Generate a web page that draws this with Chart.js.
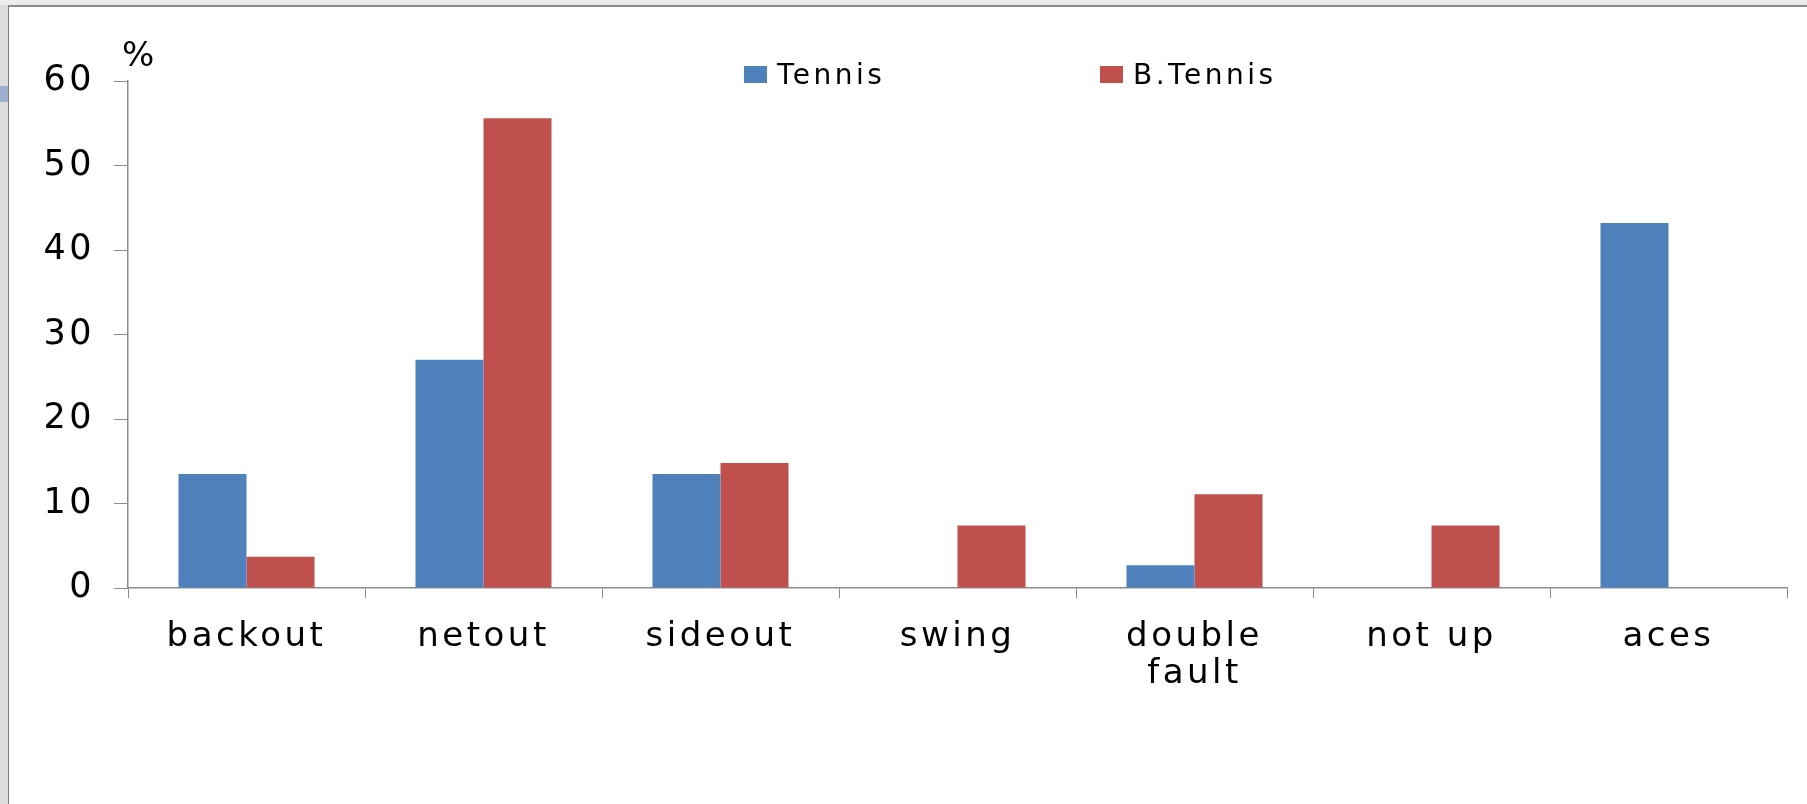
<!DOCTYPE html>
<html>
<head>
<meta charset="utf-8">
<script src="https://cdn.jsdelivr.net/npm/chart.js@4/dist/chart.umd.min.js"></script>
<style>
  html, body { margin: 0; padding: 0; }
  body { width: 1807px; height: 804px; background: #dcdcdc; position: relative; overflow: hidden; }
  #topstrip { position: absolute; left: 0; top: 0; width: 1807px; height: 5px; background: #ececec; }
  #mark { position: absolute; left: 0; top: 86px; width: 8px; height: 16px; background: #9db0d0; }
  #frame { position: absolute; left: 8px; top: 5px; width: 1799px; height: 799px;
           border-left: 1px solid #7a7a7a; border-top: 2px solid #8c8c8c; background: #fff; }
  canvas { display: block; }
</style>
</head>
<body>
<div id="topstrip"></div>
<div id="mark"></div>
<div id="frame"><canvas id="barChart" width="1798" height="797"></canvas></div>
<script>
var categories = ["backout", "netout", "sideout", "swing", ["double", "fault"], "not up", "aces"];
var tennis = [13.5, 27.0, 13.5, 0, 2.7, 0, 43.2];
var bTennis = [3.7, 55.6, 14.8, 7.4, 11.1, 7.4, 0];
var yTicks = [0, 10, 20, 30, 40, 50, 60];

var FONT = "'DejaVu Sans', 'Liberation Sans', sans-serif";

// letter spacing + "%" unit + legend drawn by hand
var decor = {
    id: 'decor',
    beforeDraw: function (chart) {
        chart.ctx.letterSpacing = '3.5px';
    },
    afterDraw: function (chart) {
        var ctx = chart.ctx;
        var y = chart.scales.y;
        ctx.save();
        ctx.letterSpacing = '0px';
        ctx.fillStyle = '#000';
        ctx.font = '34px ' + FONT;
        ctx.textAlign = 'left';
        ctx.textBaseline = 'alphabetic';
        ctx.fillText('%', y.right - 6, chart.chartArea.top - 15);

        var boxX = [735, 1091];
        ctx.font = '28px ' + FONT;
        ctx.letterSpacing = '3.5px';
        chart.data.datasets.forEach(function (ds, i) {
            ctx.fillStyle = ds.backgroundColor;
            ctx.fillRect(boxX[i], 59, 23, 17);
            ctx.fillStyle = '#000';
            ctx.fillText(ds.label, boxX[i] + 33, 77);
        });
        ctx.restore();
    }
};

new Chart(document.getElementById("barChart"), {
    type: 'bar',
    data: {
        labels: categories,
        datasets: [
            { label: 'Tennis', data: tennis, backgroundColor: '#4f81bd', borderWidth: 0 },
            { label: 'B.Tennis', data: bTennis, backgroundColor: '#c0504d', borderWidth: 0 }
        ]
    },
    options: {
        responsive: false,
        animation: false,
        layout: { padding: { left: 20, right: 20, top: 74, bottom: 96 } },
        datasets: { bar: { categoryPercentage: 0.574, barPercentage: 1.0 } },
        plugins: { legend: { display: false }, tooltip: { enabled: false } },
        scales: {
            x: {
                offset: true,
                grid: { offset: true, drawOnChartArea: false, tickLength: 10, color: '#8c8c8c' },
                border: { color: '#8c8c8c', width: 1.5 },
                ticks: {
                    color: '#000', maxRotation: 0, autoSkip: false, padding: 20,
                    font: { family: FONT, size: 34, lineHeight: 1.1 }
                },
                afterFit: function (s) { s.height = 120; }
            },
            y: {
                min: 0, max: 60,
                afterBuildTicks: function (s) { s.ticks = yTicks.map(function (v) { return { value: v }; }); },
                grid: { drawOnChartArea: false, tickLength: 14, color: '#8c8c8c' },
                border: { color: '#8c8c8c', width: 1.5 },
                ticks: {
                    color: '#000', padding: 19,
                    font: { family: FONT, size: 35 }
                },
                afterFit: function (s) { s.width = 99; }
            }
        }
    },
    plugins: [decor]
});
</script>
</body>
</html>
